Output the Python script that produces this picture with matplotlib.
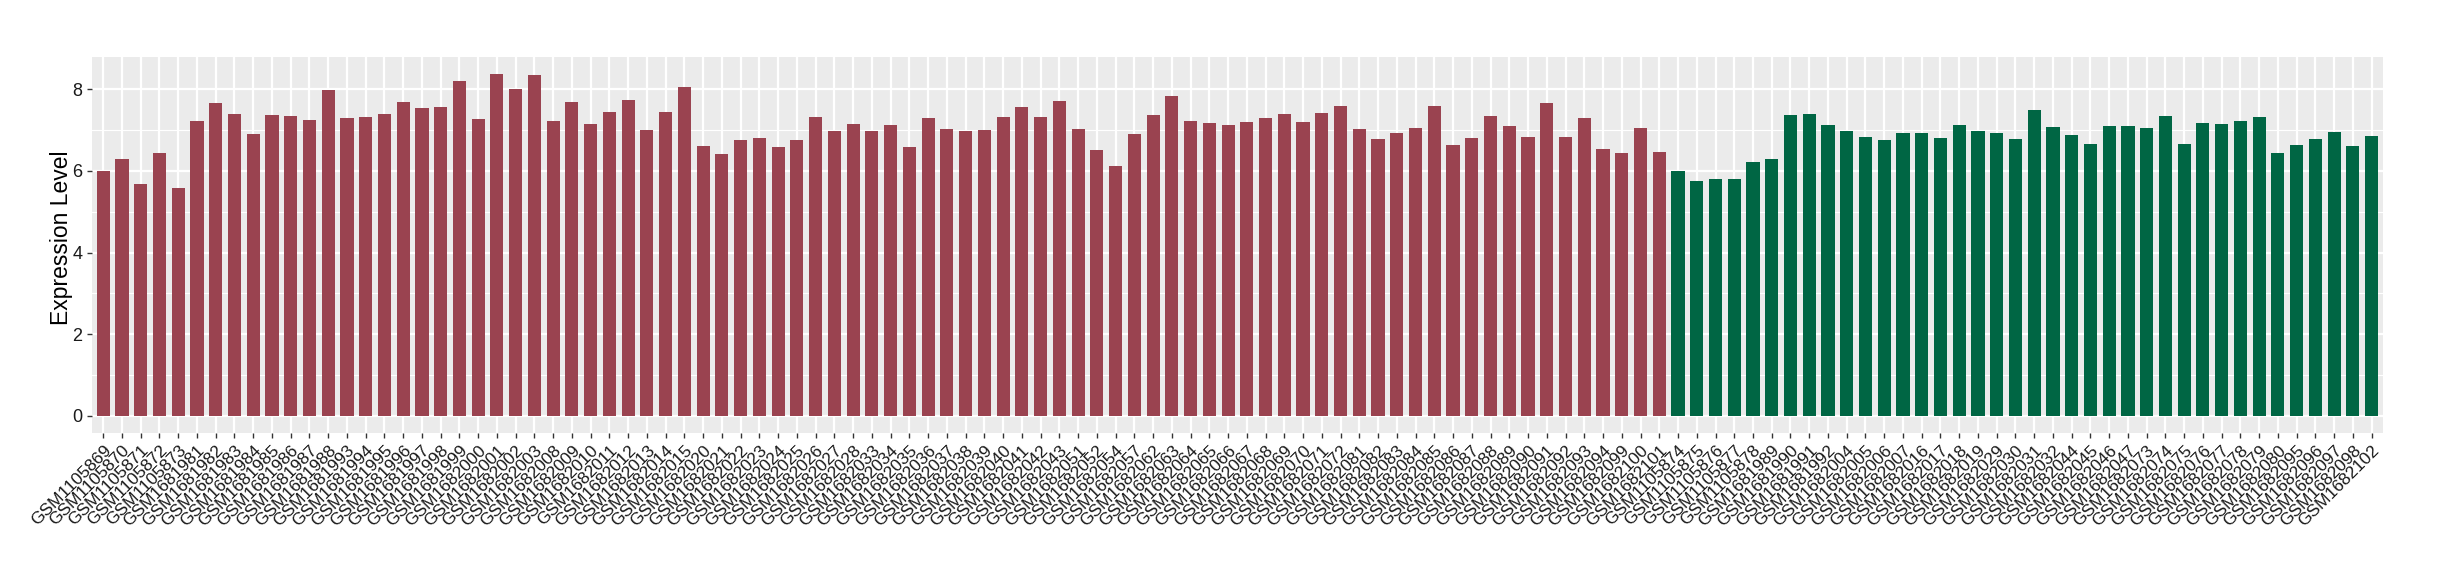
import numpy as np
import matplotlib
matplotlib.use("Agg")
import matplotlib.pyplot as plt

plt.rcParams["font.family"] = ["Liberation Sans", "DejaVu Sans"]

# samples in group 1 (red) and group 2 (green), in plotted order
red_ids = ["1105869", "1105870", "1105871", "1105872", "1105873",
           "1681981", "1681982", "1681983", "1681984", "1681985", "1681986", "1681987", "1681988",
           "1681993", "1681994", "1681995", "1681996", "1681997", "1681998", "1681999",
           "1682000", "1682001", "1682002", "1682003",
           "1682008", "1682009", "1682010", "1682011", "1682012", "1682013", "1682014", "1682015",
           "1682020", "1682021", "1682022", "1682023", "1682024", "1682025", "1682026", "1682027", "1682028",
           "1682033", "1682034", "1682035", "1682036", "1682037", "1682038", "1682039", "1682040",
           "1682041", "1682042", "1682043",
           "1682051", "1682052", "1682054", "1682057",
           "1682062", "1682063", "1682064", "1682065", "1682066", "1682067", "1682068", "1682069",
           "1682070", "1682071", "1682072",
           "1682081", "1682082", "1682083", "1682084", "1682085", "1682086", "1682087", "1682088",
           "1682089", "1682090", "1682091", "1682092", "1682093", "1682094",
           "1682099", "1682100", "1682101"]
red_vals = [6.01, 6.28, 5.67, 6.45, 5.57, 7.23, 7.67, 7.40, 6.91, 7.37, 7.35, 7.25, 7.98,
            7.30, 7.33, 7.40, 7.69, 7.54, 7.57, 8.20, 7.28, 8.37, 8.01, 8.35,
            7.23, 7.69, 7.15, 7.45, 7.74, 7.01, 7.45, 8.06,
            6.62, 6.42, 6.76, 6.81, 6.59, 6.76, 7.33, 6.98, 7.15,
            6.98, 7.13, 6.59, 7.30, 7.03, 6.98, 7.01, 7.33, 7.57, 7.33, 7.72,
            7.03, 6.52, 6.13, 6.91,
            7.37, 7.84, 7.23, 7.18, 7.13, 7.20, 7.30, 7.40, 7.20, 7.42, 7.59,
            7.03, 6.79, 6.93, 7.06, 7.59, 6.64, 6.81, 7.35, 7.11, 6.84, 7.67, 6.84, 7.30, 6.54,
            6.45, 7.06, 6.47]

green_ids = ["1105874", "1105875", "1105876", "1105877", "1105878",
             "1681989", "1681990", "1681991", "1681992",
             "1682004", "1682005", "1682006", "1682007",
             "1682016", "1682017", "1682018", "1682019",
             "1682029", "1682030", "1682031", "1682032",
             "1682044", "1682045", "1682046", "1682047",
             "1682073", "1682074", "1682075", "1682076", "1682077", "1682078", "1682079", "1682080",
             "1682095", "1682096", "1682097", "1682098", "1682102"]
green_vals = [6.01, 5.76, 5.81, 5.81, 6.23, 6.28, 7.37, 7.40, 7.13,
              6.98, 6.84, 6.76, 6.93, 6.93, 6.81, 7.13, 6.98,
              6.93, 6.79, 7.50, 7.08, 6.89, 6.67, 7.11, 7.11,
              7.06, 7.35, 6.67, 7.18, 7.15, 7.23, 7.33, 6.45,
              6.64, 6.79, 6.96, 6.62, 6.86]

labels = ["GSM" + s for s in red_ids + green_ids]
values = red_vals + green_vals
colors = ["#9A4350"] * len(red_vals) + ["#006644"] * len(green_vals)

fig = plt.figure(figsize=(24.4, 5.8), dpi=100)
ax = fig.add_axes([0.0377, 0.2534, 0.9389, 0.6483])

x = np.arange(1, len(values) + 1)
ax.bar(x, values, width=0.7, color=colors, zorder=3)

ax.set_facecolor("#EBEBEB")
ax.set_xlim(0.4, len(values) + 0.6)
ax.set_ylim(-0.42, 8.79)
ax.set_yticks([0, 2, 4, 6, 8])
ax.set_yticks([1, 3, 5, 7], minor=True)
ax.grid(which="major", color="white", linewidth=1.6, zorder=0)
ax.grid(which="minor", axis="y", color="white", linewidth=0.8, zorder=0)
ax.set_xticks(x)
ax.set_xticklabels(labels, rotation=45, ha="right", rotation_mode="anchor", fontsize=12.5)
ax.tick_params(axis="both", length=3.5, width=1, color="#333333", labelcolor="#1A1A1A")
ax.tick_params(axis="y", labelsize=13)
ax.tick_params(which="minor", length=0)
for s in ax.spines.values():
    s.set_visible(False)
ax.set_ylabel("Expression Level", fontsize=16.5)
ax.yaxis.set_label_coords(-0.0083, 0.52)

fig.savefig("out.png", dpi=100)
